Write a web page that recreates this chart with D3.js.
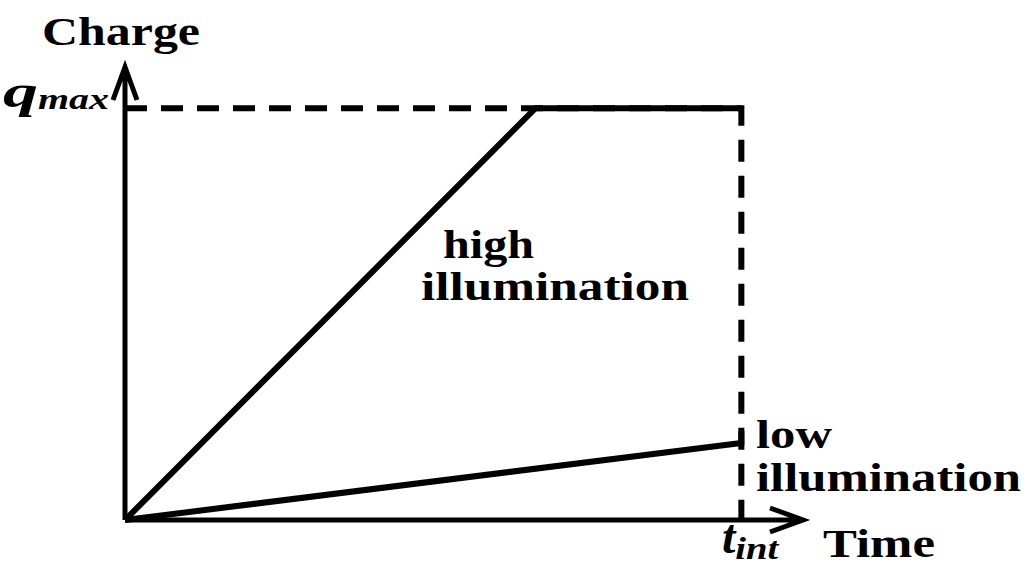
<!DOCTYPE html>
<html>
<head>
<meta charset="utf-8">
<script src="https://cdn.jsdelivr.net/npm/d3@7"></script>
<style>
  body { margin: 0; background: #fff; }
  text { font-family: "Liberation Serif", serif; font-weight: bold; fill: #000; }
</style>
</head>
<body>
<div id="container"></div>
<script>
// data - times are fractions of t_int, charge is fraction of q_max
const highTime = [0, 0.666, 1];
const highCharge = [0, 1, 1];
const lowTime = [0, 1];
const lowCharge = [0, 0.187];
const limitTime = [0, 1, 1];
const limitCharge = [1, 1, 0];
const axisEnd = 1.1;

const width = 1032;
const height = 568;

const xScale = d3.scaleLinear().domain([0, axisEnd]).range([125, 803]);
const yScale = d3.scaleLinear().domain([0, axisEnd]).range([520, 67]);

const svg = d3.select("#container").append("svg")
  .attr("width", width)
  .attr("height", height);

const line = d3.line().x(d => xScale(d[0])).y(d => yScale(d[1]));

// dashed limit lines
svg.append("path")
  .attr("d", line(d3.zip(limitTime, limitCharge)))
  .attr("fill", "none")
  .attr("stroke", "#000")
  .attr("stroke-width", 6)
  .attr("stroke-dasharray", "22 14");

// axes with open arrowheads
const x0 = xScale(0), y0 = yScale(0);
const xTip = xScale(axisEnd), yTip = yScale(axisEnd);
svg.append("path")
  .attr("d", `M${x0},${y0}H${xTip}M${xTip - 33},${y0 - 12}L${xTip},${y0}L${xTip - 33},${y0 + 12}`)
  .attr("fill", "none").attr("stroke", "#000").attr("stroke-width", 5);
svg.append("path")
  .attr("d", `M${x0},${y0}V${yTip}M${x0 - 12},${yTip + 33}L${x0},${yTip}L${x0 + 12},${yTip + 33}`)
  .attr("fill", "none").attr("stroke", "#000").attr("stroke-width", 5);

// high and low illumination curves
svg.append("path")
  .attr("d", line(d3.zip(highTime, highCharge)))
  .attr("fill", "none").attr("stroke", "#000").attr("stroke-width", 6)
  .attr("stroke-linejoin", "miter");
svg.append("path")
  .attr("d", line(d3.zip(lowTime, lowCharge)))
  .attr("fill", "none").attr("stroke", "#000").attr("stroke-width", 6);

// short solid stub above low endpoint
svg.append("line")
  .attr("x1", xScale(1)).attr("x2", xScale(1))
  .attr("y1", yScale(lowCharge[1]) + 2).attr("y2", yScale(lowCharge[1]) - 12)
  .attr("stroke", "#000").attr("stroke-width", 6);

// labels - stretched a little to imitate the wide bold serif of the original
function label(x, y, len, txt, anchor) {
  return svg.append("text").attr("x", x).attr("y", y)
    .attr("text-anchor", anchor || "start").attr("font-size", 41)
    .attr("textLength", len).attr("lengthAdjust", "spacingAndGlyphs")
    .text(txt);
}
label(121, 45, 158, "Charge", "middle");
label(823, 557, 112, "Time");
label(443, 258, 91, "high");
label(421, 300, 268, "illumination");
label(756, 448, 76, "low");
label(756, 491, 265, "illumination");

const qm = svg.append("text").attr("x", 3).attr("y", 107)
  .attr("font-size", 46).attr("font-style", "italic");
qm.append("tspan").attr("textLength", 35).attr("lengthAdjust", "spacingAndGlyphs").text("q");
qm.append("tspan").attr("font-size", 30).attr("dy", 2)
  .attr("textLength", 71).attr("lengthAdjust", "spacingAndGlyphs").text("max");

const ti = svg.append("text").attr("x", 722).attr("y", 553)
  .attr("font-size", 48).attr("font-style", "italic");
ti.append("tspan").text("t");
ti.append("tspan").attr("font-size", 31).attr("dy", 6)
  .attr("textLength", 43).attr("lengthAdjust", "spacingAndGlyphs").text("int");
</script>
</body>
</html>
